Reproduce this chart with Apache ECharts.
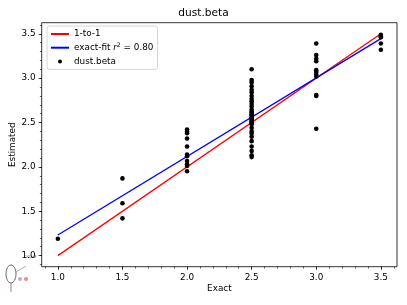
<!DOCTYPE html>
<html>
<head>
<meta charset="utf-8">
<script src="https://cdn.jsdelivr.net/npm/echarts@6/dist/echarts.min.js"></script>
<style>
html,body{margin:0;padding:0;background:#fff;}
#chart{width:407px;height:305px;}
</style>
</head>
<body>
<div id="chart"></div>
<script>
// ---- data ----
const titleText = 'dust.beta';
const xLabelText = 'Exact';
const yLabelText = 'Estimated';
const majorTicks = [1.0, 1.5, 2.0, 2.5, 3.0, 3.5];
const est_1_0 = [1.19];
const est_1_5 = [1.87, 1.59, 1.42];
const est_2_0 = [2.42, 2.40, 2.38, 2.32, 2.23, 2.14, 2.12, 2.065, 2.03, 2.01, 1.95];
const est_2_5 = [3.10, 2.98, 2.955, 2.91, 2.87, 2.84, 2.80, 2.765, 2.74, 2.71, 2.68, 2.645, 2.62, 2.61, 2.59,
                 2.58, 2.56, 2.55, 2.53, 2.52, 2.51, 2.50, 2.48, 2.44, 2.40, 2.375, 2.34, 2.29, 2.23, 2.18, 2.13, 2.11];
const est_3_0 = [3.39, 3.26, 3.22, 3.19, 3.09, 3.07, 3.04, 3.02, 2.81, 2.80, 2.43];
const est_3_5 = [3.49, 3.47, 3.46, 3.39, 3.32];
const exactLevels = [1.0, 1.5, 2.0, 2.5, 3.0, 3.5];
const estByLevel = [est_1_0, est_1_5, est_2_0, est_2_5, est_3_0, est_3_5];
const oneToOneX = [1.0, 3.5];
const oneToOneY = [1.0, 3.5];
const fitX = [1.0, 3.5];
const fitY = [1.232, 3.446];
const fitR2 = '0.80';

// ---- build ----
const scatterData = [];
exactLevels.forEach((x, i) => estByLevel[i].forEach(y => scatterData.push([x, y])));
const minorTicks = [];
for (let k = 9; k <= 36; k++) minorTicks.push(k / 10);

const FS = 8.83;
const font = 'DejaVu Sans';
const axMin = 0.875, axMax = 3.625;
const gridPos = {left: 41.7, right: 10, top: 22.7, bottom: 38.3};

const chart = echarts.init(document.getElementById('chart'), null, {renderer: 'canvas'});
const majorAxis = (extra) => Object.assign({
  type: 'value', min: axMin, max: axMax,
  axisLine: {show: false},
  splitLine: {show: false},
  nameMoveOverlap: false,
  axisTick: {show: true, customValues: majorTicks, length: 3.1, lineStyle: {color: '#000', width: 0.7}},
  axisLabel: {show: true, customValues: majorTicks, margin: 6.2, color: '#000', fontFamily: font, fontSize: FS,
              formatter: v => v.toFixed(1)},
  nameTextStyle: {color: '#000', fontFamily: font, fontSize: FS}
}, extra);
const minorAxis = (extra) => Object.assign({
  type: 'value', min: axMin, max: axMax, gridIndex: 1,
  axisLine: {show: false}, splitLine: {show: false},
  axisTick: {show: true, customValues: minorTicks, length: 1.8, lineStyle: {color: '#000', width: 0.6}},
  axisLabel: {show: false}
}, extra);

chart.setOption({
  animation: false,
  backgroundColor: '#fff',
  title: {text: titleText, left: 'center', top: 8, padding: 0,
    textStyle: {fontFamily: font, fontSize: 10.6, fontWeight: 'normal', color: '#000'}},
  grid: [
    Object.assign({show: true, borderColor: '#000', borderWidth: 0.8, backgroundColor: '#fff', outerBoundsMode: 'none', containLabel: false}, gridPos),
    Object.assign({show: false, outerBoundsMode: 'none', containLabel: false}, gridPos)
  ],
  xAxis: [
    majorAxis({name: xLabelText, nameLocation: 'middle', nameGap: 17.5}),
    minorAxis({})
  ],
  yAxis: [
    majorAxis({name: yLabelText, nameLocation: 'middle', nameGap: 24}),
    minorAxis({})
  ],
  legend: {
    orient: 'vertical', left: 47, top: 26,
    padding: [3, 4, 3, 3], itemGap: 3.7, itemWidth: 18, itemHeight: 4,
    borderColor: '#cccccc', borderWidth: 0.8, borderRadius: 2.5,
    backgroundColor: 'rgba(255,255,255,0.8)',
    data: [
      {name: '1-to-1', itemStyle: {opacity: 0}},
      {name: 'exact-fit r2 = ' + fitR2, itemStyle: {opacity: 0}},
      {name: 'dust.beta', icon: 'circle'}
    ],
    textStyle: {fontFamily: font, fontSize: FS, color: '#000', lineHeight: 10,
      rich: {
        t: {fontFamily: font, fontSize: FS, color: '#000', lineHeight: 10},
        i: {fontFamily: font, fontSize: FS, fontStyle: 'italic', color: '#000', lineHeight: 10},
        s: {fontFamily: font, fontSize: 6.2, color: '#000', lineHeight: 10, verticalAlign: 'top'}
      }},
    formatter: function (name) {
      if (name.indexOf('exact-fit') === 0) return '{t|exact-fit }{i|r}{s|2}{t| = ' + fitR2 + '}';
      return name;
    }
  },
  series: [
    {name: '1-to-1', type: 'line', symbol: 'none', xAxisIndex: 0, yAxisIndex: 0,
     data: oneToOneX.map((x, i) => [x, oneToOneY[i]]),
     lineStyle: {color: '#ff0000', width: 1.33}, itemStyle: {color: '#ff0000'}, z: 2},
    {name: 'exact-fit r2 = ' + fitR2, type: 'line', symbol: 'none', xAxisIndex: 0, yAxisIndex: 0,
     data: fitX.map((x, i) => [x, fitY[i]]),
     lineStyle: {color: '#0000ff', width: 1.33}, itemStyle: {color: '#0000ff'}, z: 3},
    {name: 'dust.beta', type: 'scatter', symbol: 'circle', symbolSize: 4.6, xAxisIndex: 0, yAxisIndex: 0,
     data: scatterData, itemStyle: {color: '#000', opacity: 1}, z: 4}
  ],
  graphic: [
    {type: 'text', left: 24, top: 255, style: {text: 'CIGALE', font: 'italic 3.5px DejaVu Sans', fill: '#333'}},
    {type: 'ellipse', shape: {cx: 11, cy: 274, rx: 5, ry: 9}, style: {fill: 'none', stroke: '#444', lineWidth: 0.8}},
    {type: 'line', shape: {x1: 16, y1: 272, x2: 26, y2: 266}, style: {stroke: '#777', lineWidth: 0.6}},
    {type: 'circle', shape: {cx: 20, cy: 279, r: 2}, style: {fill: '#c9a2e0'}},
    {type: 'circle', shape: {cx: 26, cy: 279, r: 2}, style: {fill: '#e88c8c'}},
    {type: 'line', shape: {x1: 11, y1: 283, x2: 11, y2: 292}, style: {stroke: '#b06ab3', lineWidth: 1}}
  ]
});
</script>
</body>
</html>
